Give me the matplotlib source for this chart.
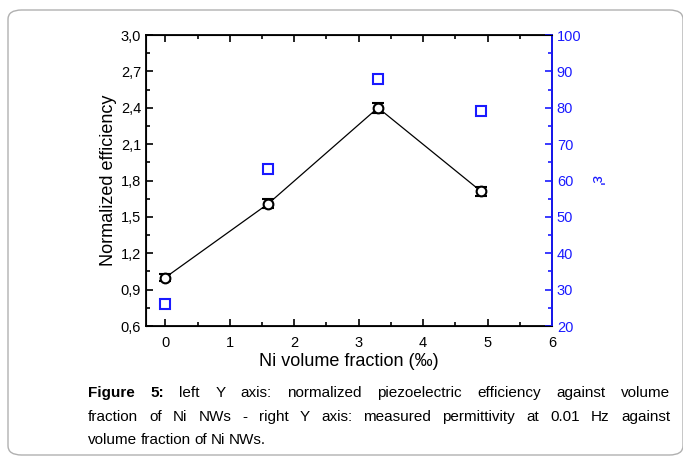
import matplotlib
matplotlib.use("Agg")
import matplotlib.pyplot as plt
from matplotlib.patches import FancyBboxPatch
from matplotlib.ticker import MultipleLocator, FuncFormatter

# data
ni_fraction = [0.0, 1.6, 3.3, 4.9]
efficiency = [1.00, 1.61, 2.40, 1.71]
efficiency_err = [0.03, 0.04, 0.04, 0.04]
permittivity = [26.0, 63.2, 88.0, 79.0]

caption_lines = [
    "left Y axis: normalized piezoelectric efficiency against volume",
    "fraction of Ni NWs - right Y axis: measured permittivity at 0.01 Hz against",
    "volume fraction of Ni NWs.",
]

plt.rcParams['font.family'] = ['Liberation Sans', 'DejaVu Sans']
blue = '#1a1aff'
W, H = 683, 461

fig = plt.figure(figsize=(W / 100, H / 100), dpi=100)

# rounded frame around figure + caption
frame = FancyBboxPatch((8 / W, 6 / H), (W - 8) / W, (H - 16) / H,
                       boxstyle="round,pad=0,rounding_size=0.02",
                       transform=fig.transFigure, fill=False,
                       edgecolor='#b0b0b0', linewidth=1.0, clip_on=False)
fig.patches.append(frame)

ax = fig.add_axes([146 / W, 1 - 326 / H, (552 - 146) / W, (326 - 35) / H])
ax.plot(ni_fraction, efficiency, color='black', linewidth=0.9, zorder=2)
ax.errorbar(ni_fraction, efficiency, yerr=efficiency_err, fmt='o', color='black',
            mfc='white', mec='black', ms=7, mew=1.5, elinewidth=1.2, capsize=4.5,
            capthick=1.5, zorder=3)
ax.set_xlim(-0.3, 6)
ax.set_ylim(0.6, 3.0)
ax.xaxis.set_major_locator(MultipleLocator(1))
ax.xaxis.set_minor_locator(MultipleLocator(0.5))
ax.yaxis.set_major_locator(MultipleLocator(0.3))
ax.yaxis.set_minor_locator(MultipleLocator(0.15))
ax.yaxis.set_major_formatter(FuncFormatter(lambda v, p: f"{v:.1f}".replace('.', ',')))
ax.tick_params(which='both', direction='in', top=True, labelsize=10.5, width=1.2)
ax.tick_params(which='major', length=5)
ax.tick_params(which='minor', length=3)
ax.tick_params(axis='x', pad=7)
for s in ax.spines.values():
    s.set_linewidth(1.3)
ax.set_xlabel("Ni volume fraction (‰)", fontsize=13, labelpad=2)
ax.set_ylabel("Normalized efficiency", fontsize=13, labelpad=3)

ax2 = ax.twinx()
ax2.plot(ni_fraction, permittivity, 's', mfc='white', mec=blue, ms=6.5, mew=1.5,
         linestyle='none')
ax2.set_ylim(20, 100)
ax2.yaxis.set_major_locator(MultipleLocator(10))
ax2.yaxis.set_minor_locator(MultipleLocator(5))
ax2.tick_params(which='both', direction='in', colors=blue, labelsize=10.5, width=1.2)
ax2.tick_params(which='major', length=5)
ax2.tick_params(which='minor', length=3)
ax2.spines['right'].set_color(blue)
ax2.spines['right'].set_linewidth(1.3)
ax2.set_ylabel("ε'", color=blue, fontsize=12, rotation=270, labelpad=16)

# justified caption
cap_font = ['Liberation Sans Narrow', 'Liberation Sans', 'DejaVu Sans']
renderer = fig.canvas.get_renderer()
x_left, x_right = 88, 670
y_lines = [397, 421, 444]
for i, line in enumerate(caption_lines):
    words = line.split(' ')
    tokens = [(w, False) for w in words]
    if i == 0:
        tokens = [("Figure", True), ("5:", True)] + tokens
    texts = []
    for w, b in tokens:
        t = fig.text(0, 1 - y_lines[i] / H, w, fontsize=11, family=cap_font,
                     fontweight='bold' if b else 'normal', va='baseline', ha='left')
        texts.append(t)
    widths = [t.get_window_extent(renderer).width for t in texts]
    if i < len(caption_lines) - 1:
        gap = (x_right - x_left - sum(widths)) / (len(texts) - 1)
    else:
        gap = 3.5
    x = x_left
    for t, w in zip(texts, widths):
        t.set_x(x / W)
        x += w + gap

fig.savefig("out.png", dpi=100)
